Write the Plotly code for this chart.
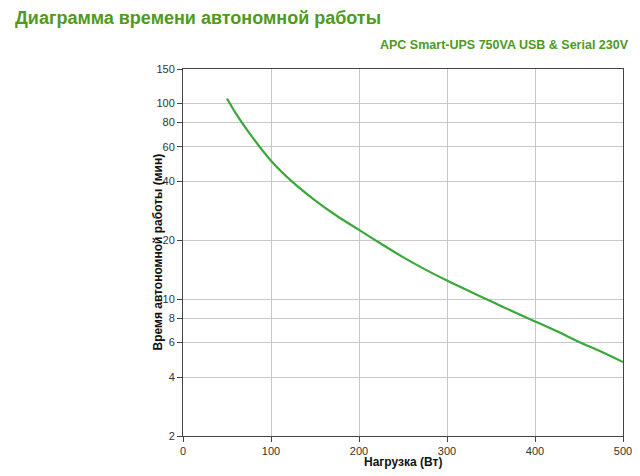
import plotly.graph_objects as go

load_w = [50, 60, 75, 100, 125, 150, 175, 200, 225, 250, 275, 300, 325, 350, 375, 400, 425, 450, 475, 500]
runtime_min = [106, 89, 71, 51, 39.5, 32, 26.6, 22.6, 19.2, 16.4, 14.2, 12.45, 11.0, 9.75, 8.65, 7.7, 6.85, 6.05, 5.4, 4.77]

y_ticks = [2, 4, 6, 8, 10, 20, 40, 60, 80, 100, 150]
x_ticks = [0, 100, 200, 300, 400, 500]

title_text = "Диаграмма времени автономной работы"
subtitle_text = "APC Smart-UPS 750VA USB & Serial 230V"
x_title = "Нагрузка (Вт)"
y_title = "Время автономной работы (мин)"

FONT = "Liberation Sans, Arial, sans-serif"
# page body has an 8px default margin; compensate so the plot lands at 183..623 x 69..436
W, H = 632, 468
L, R, T, B = 175, 17, 61, 40
PW, PH = W - L - R, H - T - B

fig = go.Figure()
fig.add_trace(go.Scatter(
    x=load_w, y=runtime_min, mode="lines",
    line=dict(color="#3aa83a", width=2.2, shape="spline", smoothing=0.8),
    showlegend=False, hoverinfo="x+y",
))

fig.update_layout(
    width=W, height=H,
    margin=dict(l=L, r=R, t=T, b=B, autoexpand=False),
    paper_bgcolor="white", plot_bgcolor="white",
    font=dict(family=FONT, color="#333333", size=11),
    showlegend=False,
)
fig.update_xaxes(
    range=[0, 500], tickvals=x_ticks, ticktext=[str(v) for v in x_ticks],
    showgrid=True, gridcolor="#c8c8c8", gridwidth=1,
    showline=True, linecolor="#444444", linewidth=1, mirror=True,
    ticks="outside", ticklen=5, tickcolor="#444444",
    zeroline=False, fixedrange=True,
)
fig.update_yaxes(
    type="log", range=[0.30103, 2.176091],
    tickvals=y_ticks, ticktext=[str(v) for v in y_ticks],
    showgrid=True, gridcolor="#c8c8c8", gridwidth=1,
    showline=True, linecolor="#444444", linewidth=1, mirror=True,
    ticks="outside", ticklen=5, tickcolor="#444444",
    zeroline=False, fixedrange=True,
)

fig.add_annotation(
    text="<b>" + y_title + "</b>", xref="paper", yref="paper",
    x=(157 - 183) / PW, y=0.5, xanchor="center", yanchor="middle", textangle=-90,
    showarrow=False, font=dict(size=12, color="#111111", family=FONT),
)
fig.add_annotation(
    text="<b>" + x_title + "</b>", xref="paper", yref="paper",
    x=0.5, y=-(462 - 436) / PH, xanchor="center", yanchor="middle",
    showarrow=False, font=dict(size=12, color="#111111", family=FONT),
)
fig.add_annotation(
    text="<b>" + title_text + "</b>", xref="paper", yref="paper",
    x=-(L - 5) / PW, y=1 + (69 - 18) / PH, xanchor="left", yanchor="middle",
    showarrow=False, font=dict(size=18, color="#4e9a1c", family=FONT),
)
fig.add_annotation(
    text="<b>" + subtitle_text + "</b>", xref="paper", yref="paper",
    x=1 + (631 - 623) / PW, y=1 + (69 - 45) / PH, xanchor="right", yanchor="middle",
    showarrow=False, font=dict(size=12.5, color="#4e9a1c", family=FONT),
)

fig.write_html("out.html")
